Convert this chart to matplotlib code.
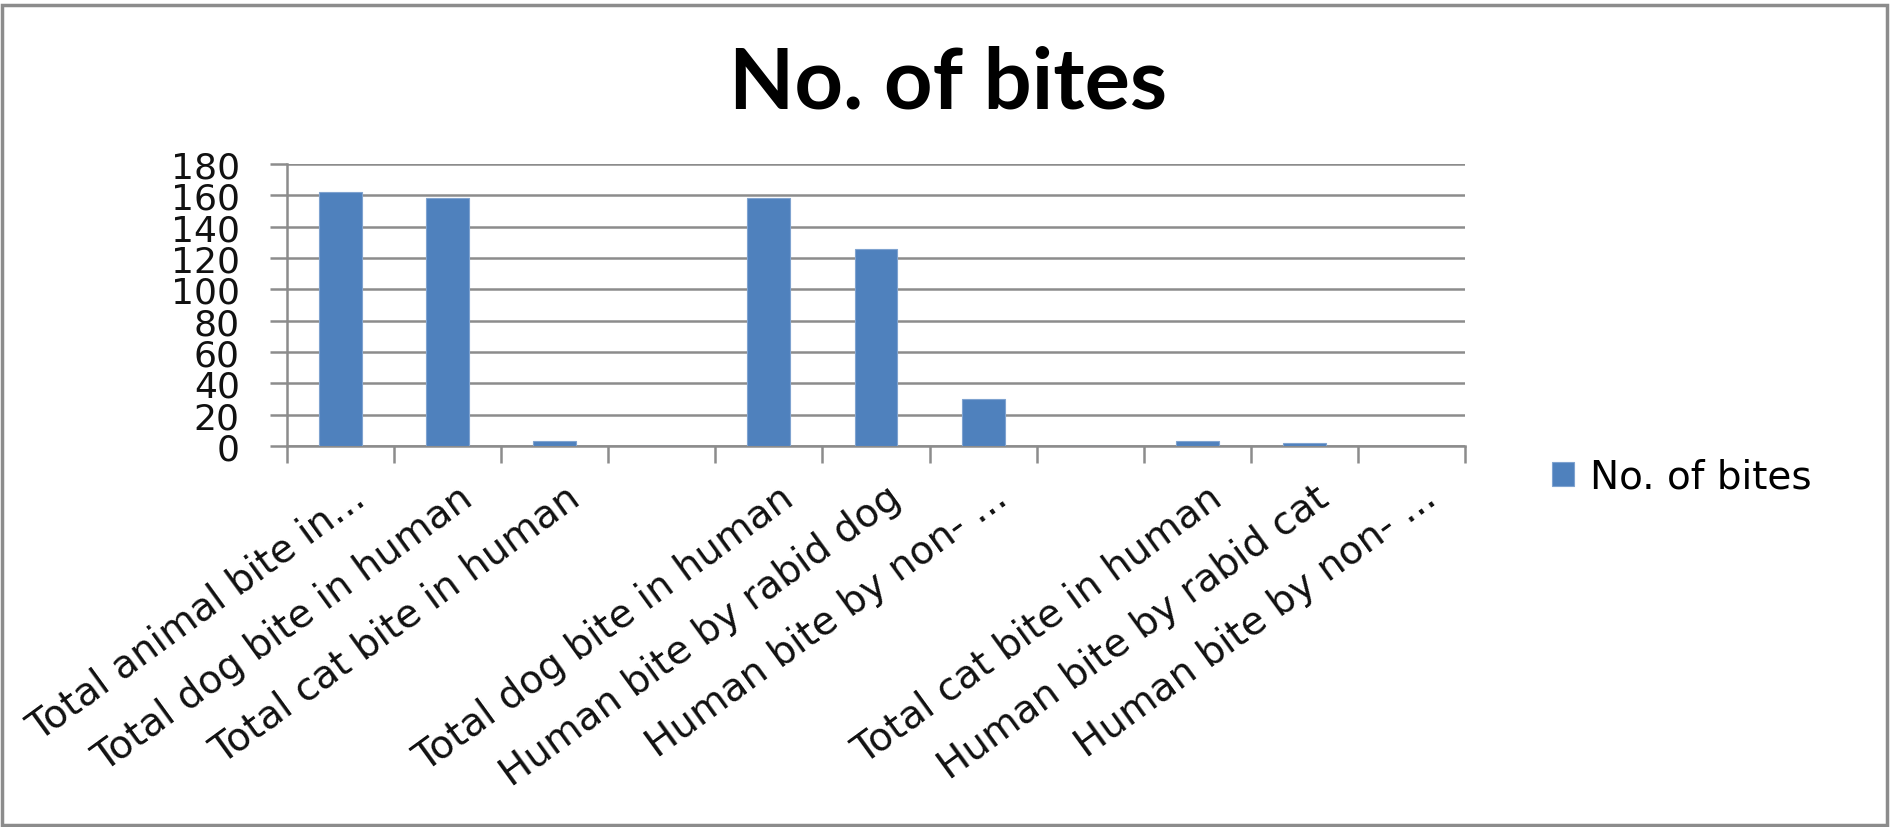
import matplotlib
matplotlib.use("Agg")
import matplotlib.pyplot as plt
import matplotlib.transforms as mtransforms
from matplotlib.patches import Rectangle
import numpy as np

categories = [
    "Total animal bite in...",
    "Total dog bite in human",
    "Total cat bite in human",
    "",
    "Total dog bite in human",
    "Human bite by rabid dog",
    "Human bite by non- ...",
    "",
    "Total cat bite in human",
    "Human bite by rabid cat",
    "Human bite by non- ...",
]
values = [162, 158, 3, 0, 158, 126, 30, 0, 3, 2, 0]
series_name = "No. of bites"
title = "No. of bites"
yticks = [0, 20, 40, 60, 80, 100, 120, 140, 160, 180]

plt.rcParams["font.family"] = ["DejaVu Sans"]

W, H = 1891, 828
fig = plt.figure(figsize=(W / 100, H / 100), dpi=100)
fig.patch.set_facecolor("white")

# outer chart border
fig.patches.append(Rectangle((2 / W, 2 / H), (W - 6) / W, (H - 8) / H,
                             transform=fig.transFigure, fill=False,
                             edgecolor="#8c8c8c", linewidth=2.5))

ax = fig.add_axes([287 / W, 1 - 447 / H, (1465 - 287) / W, (447 - 165) / H])
x = np.arange(len(categories))
ax.bar(x, values, width=0.4, color="#4F81BD", edgecolor="#7fa3d0",
       linewidth=0.8, label=series_name, zorder=3)

ax.set_xlim(-0.5, len(categories) - 0.5)
ax.set_ylim(0, 180)
ax.set_yticks(yticks)
ax.set_yticklabels([str(v) for v in yticks], fontsize=26, color="#111111")
ax.yaxis.grid(True, color="#8c8c8c", linewidth=1.8, zorder=0)
ax.tick_params(axis="y", length=12, width=1.8, color="#8c8c8c", pad=22)

ax.set_xticks(x)
ax.set_xticklabels(categories, rotation=36, ha="right", va="baseline",
                   rotation_mode="anchor", fontsize=28, color="#111111")
ax.tick_params(axis="x", which="major", length=0, pad=0)
ax.set_xticks(np.arange(-0.5, len(categories)), minor=True)
ax.tick_params(axis="x", which="minor", length=12, width=1.8, color="#8c8c8c")
offset = mtransforms.ScaledTranslation(0.27, -0.56, fig.dpi_scale_trans)
for lab in ax.get_xticklabels():
    lab.set_transform(lab.get_transform() + offset)

for s in ["top", "right"]:
    ax.spines[s].set_visible(False)
for s in ["left", "bottom"]:
    ax.spines[s].set_color("#8c8c8c")
    ax.spines[s].set_linewidth(1.8)

fig.text(948 / W, 1 - 84 / H, title, ha="center", va="center",
         fontsize=61, fontweight="bold", color="#000000",
         family=["Lato", "DejaVu Sans"])

fig.legend(loc="center left", bbox_to_anchor=(1552 / W, 1 - 478 / H),
           frameon=False, fontsize=28, handlelength=0.56, handleheight=0.56,
           handletextpad=0.42, borderpad=0, borderaxespad=0)

fig.savefig("out.png", dpi=100, facecolor="white")
